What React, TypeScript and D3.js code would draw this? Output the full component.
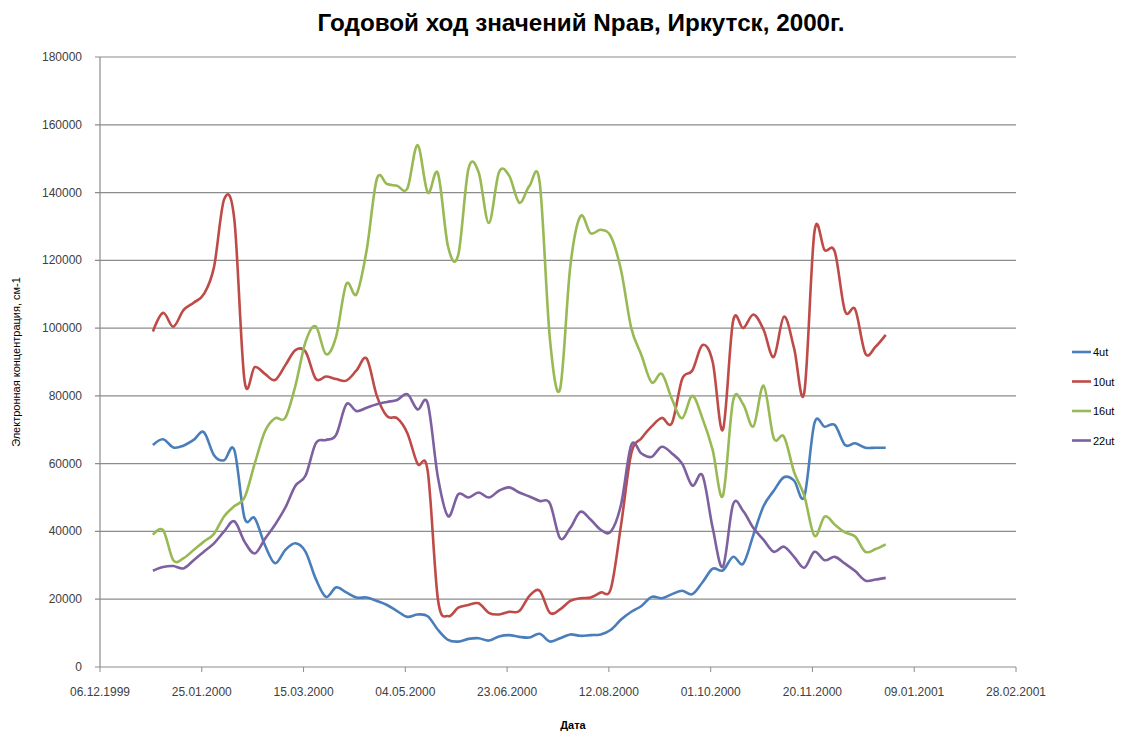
import React, { useEffect, useRef } from "react";
import * as d3 from "d3";

// 5-day sampling, 01.01.2000 .. 26.12.2000, values in thousands of cm-1
const startDate = new Date(2000, 0, 1);
const stepDays = 5;

const ut4 = [
  65.5, 67.2, 64.8, 65.3, 67, 69.3, 62.5, 61, 64, 44, 43.9, 36, 30.6, 34.5, 36.5, 34, 26, 20.7, 23.5, 22,
  20.5, 20.5, 19.5, 18.3, 16.5, 14.8, 15.5, 15, 11, 8, 7.5, 8.3, 8.5, 7.8, 9, 9.4, 8.9, 8.7, 9.8, 7.5,
  8.5, 9.6, 9.2, 9.4, 9.6, 11, 14, 16.3, 18, 20.7, 20.3, 21.5, 22.5, 21.5, 25, 29, 28.5, 32.5, 30.5, 39,
  47.5, 52, 56, 55, 50.3, 72, 70.9, 71.4, 65.5, 66, 64.7, 64.7, 64.7,
];
const ut10 = [
  99, 104.5, 100.4, 105.3, 107.5, 110, 118, 138, 132, 84.5, 88.5, 86.5, 84.7, 89, 93.5, 93, 85, 85.7, 85, 84.5,
  87.5, 91, 80, 74, 73.4, 69, 60, 57.8, 20, 15, 17.5, 18.3, 18.8, 16, 15.5, 16.3, 16.5, 21, 22.5, 16,
  17, 19.5, 20.3, 20.5, 22, 23.2, 42, 63, 67.5, 71, 73.5, 72, 85, 87.5, 95, 90, 70, 102, 100, 104,
  99.5, 91.5, 103.4, 94, 81, 128.5, 123, 122.5, 105, 105.5, 92.5, 94.5, 98,
];
const ut16 = [
  39, 40.4, 31.5, 32.1, 34.5, 37, 39.3, 44.5, 47.5, 50, 60, 69.5, 73.4, 73.5, 83, 96, 100.5, 92.3, 97.5, 113,
  110, 123, 144, 142.5, 142, 141.2, 154, 140, 145.7, 124, 121.6, 147, 146, 131, 146, 145, 137, 142, 143, 97,
  82, 118, 133, 128, 129, 127, 117, 100, 92, 84, 86.5, 79, 73.4, 80, 73.3, 64, 50.5, 78.5, 77.5, 71,
  83, 67.5, 68, 57.5, 50.5, 38.7, 44.4, 42, 39.7, 38.5, 34, 34.8, 36.2,
];
const ut22 = [
  28.4, 29.5, 29.8, 29.1, 31.5, 34, 36.5, 40, 43, 37, 33.5, 37.8, 42, 47, 53.5, 56.5, 66, 67, 68.5, 77.5,
  75.5, 76.5, 77.5, 78.2, 78.8, 80.5, 76, 77.8, 56, 44.5, 51, 50, 51.5, 50, 52, 53, 51.5, 50.3, 49, 48.3,
  38, 41, 45.8, 43.5, 40.5, 40, 48, 65.5, 63, 62, 65, 63, 60, 53.5, 56.5, 41, 29.6, 48, 46, 41,
  37.5, 34, 35.5, 32.5, 29.3, 34, 31.5, 32.5, 30.5, 28.3, 25.5, 25.8, 26.3,
];

const seriesNames = ["4ut", "10ut", "16ut", "22ut"];
const seriesColors = ["#4A7EBB", "#BE4B48", "#98B954", "#7D60A0"];
const yTicks = [0, 20000, 40000, 60000, 80000, 100000, 120000, 140000, 160000, 180000];
const xTickLabels = [
  "06.12.1999", "25.01.2000", "15.03.2000", "04.05.2000", "23.06.2000",
  "12.08.2000", "01.10.2000", "20.11.2000", "09.01.2001", "28.02.2001",
];

const parseDate = (s: string) => {
  const [d, m, y] = s.split(".").map(Number);
  return new Date(y, m - 1, d);
};

const App = () => {
  const ref = useRef<SVGSVGElement>(null);

  useEffect(() => {
    const svg = d3.select(ref.current);
    svg.selectAll("*").remove();

    const left = 100, right = 1016, top = 57, bottom = 667;
    const xDates = xTickLabels.map(parseDate);
    const x = d3.scaleTime().domain([xDates[0], xDates[xDates.length - 1]]).range([left, right]);
    const y = d3.scaleLinear().domain([0, 180000]).range([bottom, top]);

    const font = "'Liberation Sans', Arial, sans-serif";

    // grid
    svg.append("g")
      .selectAll("line")
      .data(yTicks)
      .enter()
      .append("line")
      .attr("x1", left - 5)
      .attr("x2", right)
      .attr("y1", d => y(d))
      .attr("y2", d => y(d))
      .attr("stroke", "#8c8c8c")
      .attr("stroke-width", 1.2);

    svg.append("line")
      .attr("x1", left).attr("x2", left)
      .attr("y1", top).attr("y2", bottom)
      .attr("stroke", "#8c8c8c").attr("stroke-width", 1.2);

    svg.append("g")
      .selectAll("line")
      .data(xDates)
      .enter()
      .append("line")
      .attr("x1", d => x(d)).attr("x2", d => x(d))
      .attr("y1", bottom).attr("y2", bottom + 5)
      .attr("stroke", "#8c8c8c");

    // tick labels
    svg.append("g")
      .selectAll("text")
      .data(yTicks)
      .enter()
      .append("text")
      .attr("x", left - 18)
      .attr("y", d => y(d) + 4)
      .attr("text-anchor", "end")
      .style("font", `12px ${font}`)
      .style("fill", "#404040")
      .text(d => d);

    svg.append("g")
      .selectAll("text")
      .data(xDates)
      .enter()
      .append("text")
      .attr("x", d => x(d))
      .attr("y", bottom + 29)
      .attr("text-anchor", "middle")
      .style("font", `12px ${font}`)
      .style("fill", "#404040")
      .text((d, i) => xTickLabels[i]);

    // lines
    const all = [ut4, ut10, ut16, ut22];
    const line = d3.line<number>()
      .x((d, i) => x(d3.timeDay.offset(startDate, i * stepDays)))
      .y(d => y(d * 1000))
      .curve(d3.curveCatmullRom.alpha(0));

    svg.append("g")
      .selectAll("path")
      .data(all)
      .enter()
      .append("path")
      .attr("d", d => line(d))
      .attr("fill", "none")
      .attr("stroke", (d, i) => seriesColors[i])
      .attr("stroke-width", 2.6)
      .attr("stroke-linejoin", "round");

    // titles
    svg.append("text")
      .attr("x", 581).attr("y", 31)
      .attr("text-anchor", "middle")
      .attr("textLength", 527)
      .attr("lengthAdjust", "spacingAndGlyphs")
      .style("font", `bold 23px ${font}`)
      .style("fill", "#000")
      .text("Годовой ход значений Nрав, Иркутск, 2000г.");

    svg.append("text")
      .attr("x", 573).attr("y", 729)
      .attr("text-anchor", "middle")
      .style("font", `bold 11px ${font}`)
      .style("fill", "#000")
      .text("Дата");

    svg.append("text")
      .attr("transform", `translate(20,${(top + bottom) / 2}) rotate(-90)`)
      .attr("text-anchor", "middle")
      .style("font", `11px ${font}`)
      .style("fill", "#000")
      .text("Электронная концентрация, см-1");

    // legend
    const lg = svg.append("g")
      .selectAll("g")
      .data(seriesNames)
      .enter()
      .append("g")
      .attr("transform", (d, i) => `translate(1072,${352 + i * 29.5})`);
    lg.append("line")
      .attr("x1", 0).attr("x2", 19)
      .attr("stroke", (d, i) => seriesColors[i])
      .attr("stroke-width", 2.6);
    lg.append("text")
      .attr("x", 21).attr("y", 4)
      .style("font", `11px ${font}`)
      .style("fill", "#000")
      .text(d => d);
  }, []);

  return (
    <svg
      ref={ref}
      width={1146}
      height={733}
      style={{ position: "absolute", left: 0, top: 0, background: "#fff" }}
    />
  );
};

export default App;
